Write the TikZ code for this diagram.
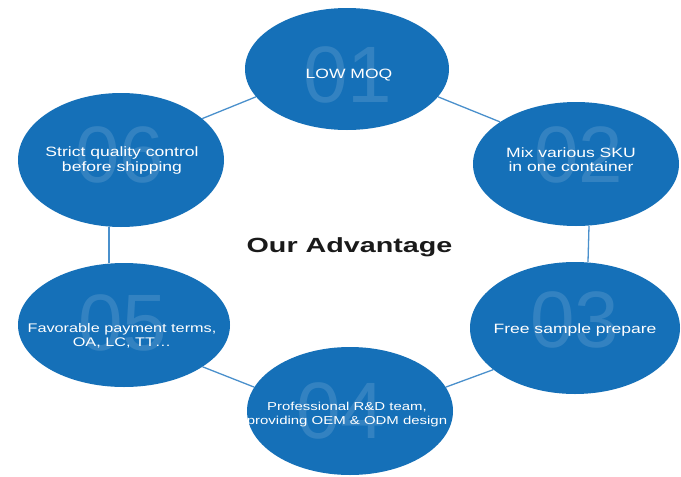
\documentclass[tikz,border=0pt]{standalone}
\usepackage{fontspec}
\setmainfont{Liberation Sans}
\newfontfamily\labfont[FakeStretch=1.3]{Liberation Sans}
\newfontfamily\titlefont[FakeStretch=1.4]{Liberation Sans}
\usetikzlibrary{shapes.geometric}
\pgfdeclarelayer{bg}
\pgfsetlayers{bg,main}
\definecolor{bluedisc}{HTML}{1570B8}
\definecolor{linkblue}{HTML}{4A90CC}
\definecolor{titlegray}{HTML}{1A1A1A}
\begin{document}
\begin{tikzpicture}[x=1pt,y=-1pt,
  discbox/.style={ellipse, fill=bluedisc, draw=none, inner sep=0pt},
  linkline/.style={draw=linkblue, line width=1.3pt},
  bignum/.style={text=white, text opacity=0.13, inner sep=0pt, anchor=base,
                 font=\fontsize{80}{80}\selectfont},
  lab/.style={text=white, inner sep=0pt, align=center,
              font=\labfont\fontsize{13.5}{14.5}\selectfont}]
\useasboundingbox (0,0) rectangle (681,477);

\node[discbox, minimum width=204pt, minimum height=122pt] (e1) at (347,69) {};
\node[discbox, minimum width=206pt, minimum height=124pt] (e2) at (576,164) {};
\node[discbox, minimum width=210pt, minimum height=132pt] (e3) at (575,328) {};
\node[discbox, minimum width=206pt, minimum height=128pt] (e4) at (350,411) {};
\node[discbox, minimum width=212pt, minimum height=124pt] (e5) at (124,325) {};
\node[discbox, minimum width=206pt, minimum height=134pt] (e6) at (121,160) {};

\begin{pgfonlayer}{bg}
\fill[white] (0,0) rectangle (681,477);
\draw[linkline] (e6.27) -- (e1.197);
\draw[linkline] (e1.343) -- (e2.151);
\draw[linkline] ([xshift=13pt]e2.south) -- ([xshift=13pt]e3.north);
\draw[linkline] (e4.14) -- (e3.207);
\draw[linkline] (e5.332) -- (e4.166);
\draw[linkline] ([xshift=-12pt]e6.south) -- ([xshift=-15pt]e5.north);
\end{pgfonlayer}

\node[bignum] (n1) at (348,102) {01};
\node[bignum] (n2) at (579,182) {02};
\node[bignum] (n3) at (575,347) {03};
\node[bignum] (n4) at (341,438) {04};
\node[bignum] (n5) at (123,350) {05};
\node[bignum] (n6) at (120,182) {06};

\node[lab, anchor=base] (t1) at (349,78) {LOW MOQ};
\node[lab] (t2) at (571,159.5) {Mix various SKU\\in one container};
\node[lab, anchor=base] (t3) at (575,333) {Free sample prepare};
\node[lab, font=\labfont\fontsize{11.5}{14}\selectfont] (t4) at (347,415) {Professional R\&D team,\\providing OEM \& ODM design};
\node[lab, font=\labfont\fontsize{12.5}{14}\selectfont] (t5) at (122,336) {Favorable payment terms,\\OA, LC, TT\ldots};
\node[lab] (t6) at (122,160.5) {Strict quality control\\before shipping};

\node[text=titlegray, inner sep=0pt, anchor=base,
      font=\titlefont\bfseries\fontsize{20.5}{24}\selectfont] (title) at (349.5,252) {Our Advantage};
\end{tikzpicture}
\end{document}
